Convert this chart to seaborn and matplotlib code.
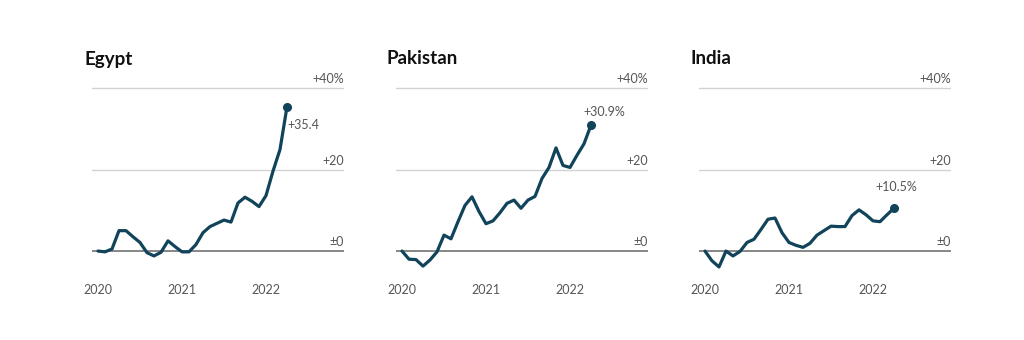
import numpy as np
import pandas as pd
import matplotlib
matplotlib.use("Agg")
import matplotlib.pyplot as plt
import seaborn as sns

# ---- data (monthly, Jan 2020 .. Apr 2022), % change ----
countries = ["Egypt", "Pakistan", "India"]
egypt = [0.0, -0.2, 0.5, 5.0, 5.0, 3.5, 2.1, -0.4, -1.2, -0.3, 2.5, 1.1, -0.2, -0.2,
         1.6, 4.5, 6.0, 6.8, 7.6, 7.1, 11.8, 13.2, 12.2, 10.9, 13.6, 19.6, 24.9, 35.4]
pakistan = [0.0, -2.0, -2.1, -3.7, -2.2, -0.2, 3.9, 3.0, 7.2, 11.2, 13.3, 9.7, 6.7, 7.4,
            9.4, 11.7, 12.5, 10.5, 12.5, 13.4, 17.8, 20.5, 25.3, 21.0, 20.5, 23.5, 26.3, 30.9]
india = [0.0, -2.4, -3.9, 0.0, -1.2, -0.1, 2.1, 2.9, 5.3, 7.8, 8.1, 4.5, 2.1, 1.4,
         0.9, 1.9, 3.9, 5.0, 6.1, 6.0, 6.0, 8.7, 10.1, 8.9, 7.4, 7.2, 8.9, 10.5]
end_labels = ["+35.4", "+30.9%", "+10.5%"]
year_ticks = [2020, 2021, 2022]
year_labels = ["2020", "2021", "2022"]
grid_values = [0, 20, 40]
grid_labels = ["\u00b10", "+20", "+40%"]

series = {"Egypt": egypt, "Pakistan": pakistan, "India": india}
n = len(egypt)
t = 2020 + np.arange(n) / 12.0
df = pd.concat([pd.DataFrame({"country": c, "t": t, "value": v}) for c, v in series.items()])

# ---- style ----
sns.set_theme(style="white")
plt.rcParams["font.family"] = ["Lato", "DejaVu Sans"]

LINE = "#11435a"
TXT = "#555555"

fig = plt.figure(figsize=(10.24, 3.4), dpi=100)
lefts = [92, 396, 699]
title_x = [84, 387, 690]
W = 252
bottom_frac = 1 - 275.5 / 340
top_frac = 1 - 83.9 / 340
label_offsets = [((0, -18), "left"), ((13, 13), "center"), ((2, 21), "center")]

for i, c in enumerate(countries):
    ax = fig.add_axes([lefts[i] / 1024, bottom_frac, W / 1024, top_frac - bottom_frac])
    sub = df[df["country"] == c]
    for gv, gl in zip(grid_values, grid_labels):
        ax.axhline(gv, color="#666666" if gv == 0 else "#d2d2d2",
                   lw=1.1 if gv == 0 else 1.0, zorder=1)
        ax.annotate(gl, xy=(1.0, gv), xycoords=ax.get_yaxis_transform(),
                    xytext=(0, 9), textcoords="offset pixels",
                    ha="right", va="center", fontsize=9, color=TXT)
    sns.lineplot(data=sub, x="t", y="value", ax=ax, color=LINE, lw=2.3, zorder=3)
    last_x, last_y = sub["t"].iloc[-1], sub["value"].iloc[-1]
    ax.plot([last_x], [last_y], "o", color=LINE, ms=5.5, zorder=4)
    (dx, dy), ha = label_offsets[i]
    ax.annotate(end_labels[i], xy=(last_x, last_y), xytext=(dx, dy),
                textcoords="offset pixels", ha=ha, va="center",
                fontsize=9, color=TXT, zorder=5)
    ax.set_xlim(2020 - 6 / 84, 2020 + 246 / 84)
    ax.set_ylim(-6, 41)
    ax.set_xticks(year_ticks)
    ax.set_xticklabels(year_labels, fontsize=9, color=TXT)
    ax.set_yticks([])
    ax.tick_params(axis="x", length=0, pad=6)
    ax.set_xlabel("")
    ax.set_ylabel("")
    for s in ax.spines.values():
        s.set_visible(False)
    ax.patch.set_alpha(0)
    fig.text(title_x[i] / 1024, 1 - 59 / 340, c, fontsize=13.5, fontweight="bold",
             color="#111111", ha="left", va="center")

fig.savefig("out.png", dpi=100, facecolor="white")
